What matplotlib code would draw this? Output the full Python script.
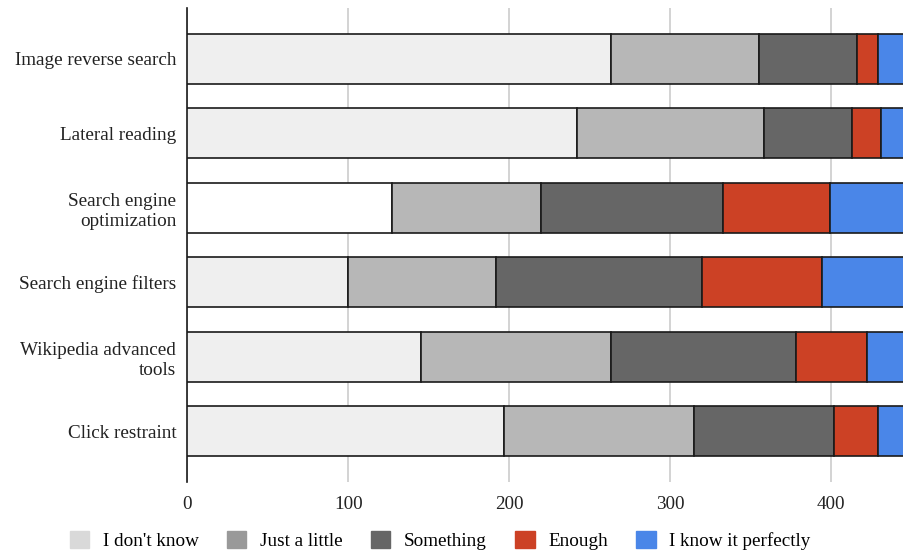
import matplotlib.pyplot as plt
from matplotlib.patches import Patch
import numpy as np

categories = ['Image reverse search', 'Lateral reading', 'Search engine\noptimization',
              'Search engine filters', 'Wikipedia advanced\ntools', 'Click restraint']
levels = ["I don't know", 'Just a little', 'Something', 'Enough', 'I know it perfectly']

dont_know = [263, 242, 127, 100, 145, 197]
just_little = [92, 116, 93, 92, 118, 118]
something = [61, 55, 113, 128, 115, 87]
enough = [13, 18, 66, 74, 44, 27]
perfectly = [17, 15, 47, 52, 24, 17]

bar_colors = ['#efefef', '#b7b7b7', '#666666', '#cc4125', '#4a86e8']
legend_colors = ['#d9d9d9', '#999999', '#666666', '#cc4125', '#4a86e8']

plt.rcParams['font.family'] = 'Liberation Serif'
FS = 13.8

fig = plt.figure(figsize=(9.04, 5.54), dpi=100)
ax = fig.add_axes([0.2072, 0.13, 0.7928, 0.8556])

series = [dont_know, just_little, something, enough, perfectly]
y = np.arange(len(categories))
left = np.zeros(len(categories))
for i, vals in enumerate(series):
    cols = [bar_colors[i]] * len(categories)
    if i == 0:
        cols[2] = '#ffffff'  # the SEO bar has a white first segment
    ax.barh(y, vals, left=left, height=0.67, color=cols,
            edgecolor='#1a1a1a', linewidth=1.2, zorder=3)
    left += np.array(vals)

ax.set_ylim(5.68, -0.68)
ax.set_xlim(0, 445.2)
ax.set_xticks([0, 100, 200, 300, 400])
ax.set_yticks(y)
ax.set_yticklabels(categories, fontsize=FS, linespacing=1.25)
ax.tick_params(axis='both', length=0, pad=8, labelsize=FS, colors='#222222')
ax.tick_params(axis='x', pad=10)
ax.xaxis.grid(True, color='#cccccc', linewidth=1.2, zorder=0)
ax.set_axisbelow(True)
for s in ['top', 'right', 'bottom']:
    ax.spines[s].set_visible(False)
ax.spines['left'].set_color('#1a1a1a')
ax.spines['left'].set_linewidth(1.2)

handles = [Patch(facecolor=c, edgecolor=c) for c in legend_colors]
fig.legend(handles, levels, loc='center', bbox_to_anchor=(0.487, 0.025), ncol=5,
           frameon=False, fontsize=FS, handlelength=1.0, handleheight=1.0,
           handletextpad=0.7, columnspacing=1.5)

fig.savefig('out.png', dpi=100)
